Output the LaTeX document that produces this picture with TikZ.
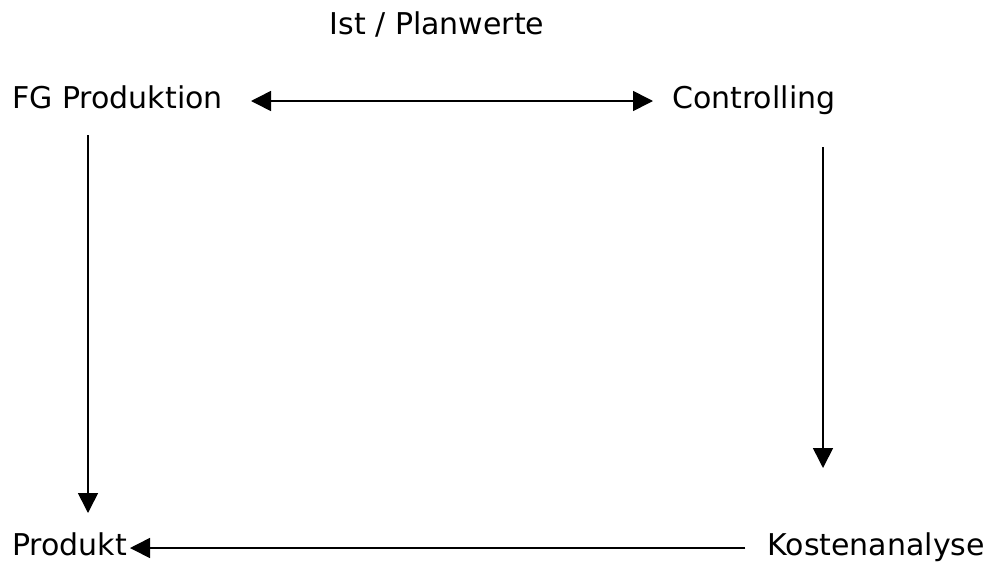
\documentclass[tikz,border=0pt]{standalone}
\usepackage{fontspec}
\setmainfont{DejaVu Sans}
\usetikzlibrary{arrows.meta}
\begin{document}
\begin{tikzpicture}[x=1pt,y=-1pt,
  lbl/.style={inner sep=0pt,font=\fontsize{30}{36}\selectfont},
  arr/.style={line width=1.6pt,-{Triangle[length=20pt,width=20pt]}},
  darr/.style={line width=1.6pt,{Triangle[length=20pt,width=20pt]}-{Triangle[length=20pt,width=20pt]}}]
\useasboundingbox[fill=white] (0,0) rectangle (987,563);
\node[lbl,anchor=base] (ist) at (437,34) {Ist / Planwerte};
\node[lbl,anchor=base west] (fg) at (12,108) {FG Produktion};
\node[lbl,anchor=base west] (ctrl) at (672,108) {Controlling};
\node[lbl,anchor=base west] (prod) at (12,555) {Produkt};
\node[lbl,anchor=base east] (kost) at (985,555) {Kostenanalyse};
\draw[darr] ([xshift=239pt,yshift=7pt]fg.base west) -- ([xshift=-19pt,yshift=7pt]ctrl.base west);
\draw[arr] ([xshift=76pt,yshift=-27pt]fg.base west) -- ([xshift=76pt,yshift=42pt]prod.base west);
\draw[arr] ([xshift=151pt,yshift=-39pt]ctrl.base west) -- ([xshift=-162pt,yshift=87pt]kost.base east);
\draw[arr] ([xshift=-22pt,yshift=7pt]kost.base west) -- ([xshift=118pt,yshift=7pt]prod.base west);
\end{tikzpicture}
\end{document}
